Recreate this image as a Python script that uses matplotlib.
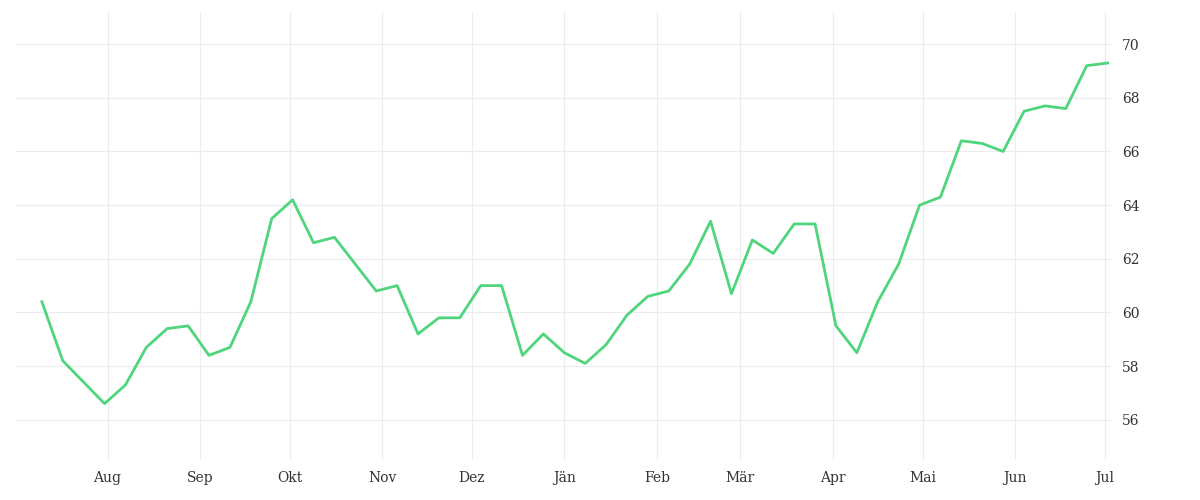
import matplotlib
matplotlib.use("Agg")
import matplotlib.pyplot as plt
import pandas as pd

dates = list(pd.date_range("2022-07-10", periods=51, freq="7D")) + [pd.Timestamp("2023-07-02")]
values = [60.4, 58.2, 57.4, 56.6, 57.3, 58.7, 59.4, 59.5, 58.4, 58.7,
          60.4, 63.5, 64.2, 62.6, 62.8, 61.8, 60.8, 61.0, 59.2, 59.8,
          59.8, 61.0, 61.0, 58.4, 59.2, 58.5, 58.1, 58.8, 59.9, 60.6,
          60.8, 61.8, 63.4, 60.7, 62.7, 62.2, 63.3, 63.3, 59.5, 58.5,
          60.4, 61.8, 64.0, 64.3, 66.4, 66.3, 66.0, 67.5, 67.7, 67.6,
          69.2, 69.3]
month_labels = ["Aug", "Sep", "Okt", "Nov", "Dez", "Jän", "Feb", "Mär", "Apr", "Mai", "Jun", "Jul"]
month_ticks = pd.date_range("2022-08-01", periods=12, freq="MS")

fig = plt.figure(figsize=(12, 5), dpi=100)
ax = fig.add_axes([0.0125, 0.08, 0.913, 0.896])
ax.plot(dates, values, color="#4fd57b", lw=2)
ax.set_xlim(pd.Timestamp("2022-07-01"), pd.Timestamp("2023-07-03"))
ax.set_ylim(54.5, 71.2)
ax.set_xticks(month_ticks)
ax.set_xticklabels(month_labels)
ax.set_yticks(range(56, 71, 2))
ax.yaxis.tick_right()
ax.grid(color="#ececec", lw=0.8)
for s in ax.spines.values():
    s.set_visible(False)
ax.tick_params(length=0, labelsize=10, labelcolor="#333333", pad=8)
for t in ax.get_xticklabels() + ax.get_yticklabels():
    t.set_family("DejaVu Serif")
fig.savefig("out.png")
